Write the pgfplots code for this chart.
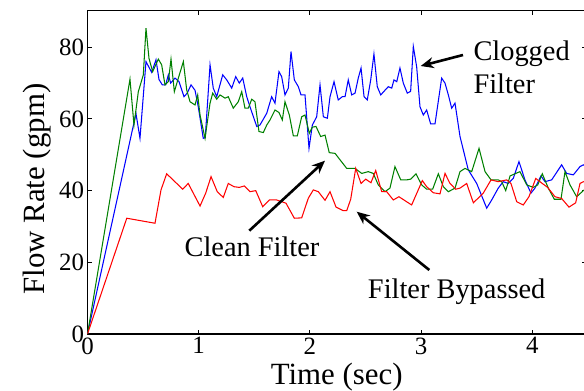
\documentclass[border=0pt]{standalone}
\usepackage{pgfplots}
\pgfplotsset{compat=1.18}
\usepackage{fontspec}
\setmainfont{Liberation Serif}
\usetikzlibrary{arrows.meta}
\definecolor{mblue}{RGB}{0,0,255}
\definecolor{mgreen}{RGB}{0,128,0}
\definecolor{mred}{RGB}{255,0,0}
\begin{document}
\begin{tikzpicture}
\begin{axis}[
  at={(0,0)}, anchor=south west,
  scale only axis, width=498.5bp, height=323.3bp,
  xmin=0, xmax=4.483, ymin=0, ymax=90.2,
  xtick={0,1,2,3,4}, ytick={0,20,40,60,80},
  tick align=inside, major tick length=4.5bp,
  axis line style={line width=1.3bp}, tick style={line width=0.9bp, black},
  /pgf/number format/assume math mode=true,
  ticklabel style={font=\fontsize{25}{25}\selectfont},
  xlabel={Time (sec)}, ylabel={Flow Rate (gpm)},
  label style={font=\fontsize{31}{31}\selectfont},
  xlabel style={at={(axis description cs:0.5,-0.1577)}, anchor=base},
  ylabel style={at={(axis description cs:-0.0862,0.448)}, anchor=base, rotate=0},
  clip=true,
]
\addplot[mblue, line width=1.05bp] coordinates {
(0,0) (0.436,61.5) (0.472,54.6) (0.526,76) (0.577,73) (0.616,76.5) (0.643,71) (0.673,69.5) (0.703,69.5) (0.727,72.3) (0.748,70) (0.787,71.4) (0.823,70.4) (0.868,66.2) (0.897,67.2) (0.931,69.5) (0.967,68) (0.996,63.4) (1.041,54.6) (1.059,54.8) (1.102,75.1) (1.131,68.6) (1.162,66.2) (1.216,72.3) (1.252,70.9) (1.297,68.6) (1.333,71.8) (1.365,70) (1.396,71.4) (1.432,66.2) (1.461,63.4) (1.522,57.9) (1.551,58.3) (1.612,61.6) (1.656,66.2) (1.686,64.4) (1.722,73.2) (1.746,71.8) (1.776,66.7) (1.806,68.6) (1.830,78.8) (1.860,70.9) (1.896,69) (1.920,66.7) (1.956,66.7) (1.992,51.8) (2.022,58.3) (2.061,60.6) (2.091,69.5) (2.121,60.6) (2.157,60.2) (2.181,66.2) (2.217,70.4) (2.255,65.3) (2.291,66.2) (2.316,66.2) (2.345,70.9) (2.376,66.7) (2.406,67.2) (2.435,71.4) (2.460,74.2) (2.487,66.2) (2.516,65.3) (2.547,70.9) (2.576,78.1) (2.606,69) (2.637,66.7) (2.675,68) (2.705,69) (2.736,68.6) (2.756,70.9) (2.781,70.4) (2.810,74.2) (2.840,70) (2.876,67.2) (2.906,67.7) (2.930,80.2) (2.960,74.6) (2.990,63.4) (3.020,61.1) (3.050,62.5) (3.086,58.6) (3.125,58.6) (3.185,71.4) (3.215,70) (3.245,66.7) (3.275,63) (3.305,64.4) (3.350,55.1) (3.424,45.8) (3.500,42) (3.590,35.1) (3.635,37.4) (3.694,40.7) (3.739,42.5) (3.784,42) (3.829,43.4) (3.880,48.1) (3.934,43) (3.988,39.3) (4.024,40.7) (4.078,44.1) (4.114,42.5) (4.174,43) (4.264,47.2) (4.309,44.8) (4.369,44.4) (4.429,46.7) (4.459,47.2) (4.50,46.5)
};
\addplot[mgreen, line width=1.05bp] coordinates {
(0,0) (0.382,71.1) (0.418,58.3) (0.457,67.6) (0.502,72.3) (0.526,85.3) (0.553,76.9) (0.586,73.2) (0.637,76.7) (0.667,75.1) (0.697,69.5) (0.727,70.4) (0.751,76.7) (0.781,67.6) (0.817,71.4) (0.862,76) (0.892,68.1) (0.922,64.8) (0.967,63.9) (0.991,66.7) (1.012,61.1) (1.057,54.6) (1.102,64.4) (1.126,67.2) (1.162,65.5) (1.192,66.7) (1.237,65.8) (1.266,66.2) (1.311,63) (1.356,64.8) (1.387,67.6) (1.416,63) (1.446,63) (1.477,65.5) (1.506,64.8) (1.542,56.5) (1.581,56.2) (1.612,58.3) (1.641,59.7) (1.686,62.5) (1.722,61.8) (1.752,59.7) (1.776,64.8) (1.815,61.1) (1.851,55.3) (1.887,55.3) (1.926,60.6) (1.956,61.1) (1.995,56) (2.022,57.7) (2.055,57.9) (2.097,55.1) (2.136,55.5) (2.174,50.6) (2.226,50.4) (2.271,48.6) (2.331,46.2) (2.406,46.2) (2.466,44.8) (2.525,45.3) (2.570,44.8) (2.615,41.6) (2.675,39.7) (2.720,40.7) (2.765,46.7) (2.817,43) (2.871,43) (2.906,43.2) (2.954,44.7) (3.005,41.6) (3.050,40.4) (3.104,40.4) (3.155,44.7) (3.200,41.1) (3.245,39.7) (3.305,40.7) (3.350,45.3) (3.395,46.2) (3.455,45.3) (3.521,51.8) (3.575,45.3) (3.629,43) (3.694,43) (3.725,42.5) (3.761,40) (3.800,44.1) (3.889,45.3) (3.950,41.6) (4.009,40.9) (4.049,41.6) (4.090,44.7) (4.144,40.7) (4.198,37.6) (4.258,37.6) (4.294,45.3) (4.339,41.6) (4.399,38.3) (4.459,40) (4.50,41)
};
\addplot[mred, line width=1.05bp] coordinates {
(0,0) (0.353,32.3) (0.607,30.9) (0.661,40.2) (0.712,44.7) (0.856,40.4) (0.906,42) (1.012,35.7) (1.063,39.3) (1.111,43.9) (1.167,39.7) (1.221,38.1) (1.266,42) (1.317,41.1) (1.365,40.9) (1.410,41.3) (1.461,39.7) (1.513,40) (1.576,35.5) (1.635,37.4) (1.701,37.4) (1.785,36.5) (1.860,32.3) (1.926,32.4) (1.986,37.9) (2.031,40.2) (2.076,39.7) (2.136,37.3) (2.181,39.7) (2.235,35.4) (2.255,35.1) (2.300,34.4) (2.331,34.4) (2.367,37.6) (2.412,46.2) (2.460,42) (2.502,43.2) (2.549,42.2) (2.592,45.6) (2.646,39.7) (2.691,39.7) (2.750,37.4) (2.801,38.3) (2.855,37.2) (2.915,36) (3.011,42.8) (3.050,41.1) (3.110,39.4) (3.170,39.1) (3.215,44.8) (3.260,42) (3.311,40.4) (3.350,40.7) (3.410,42) (3.470,36.6) (3.559,39.3) (3.629,43) (3.694,42.5) (3.770,43) (3.808,42) (3.860,36.9) (3.919,36) (3.970,38.3) (4.031,43.4) (4.090,42) (4.138,40.9) (4.204,38.3) (4.264,37.8) (4.330,35.4) (4.390,36.6) (4.429,42) (4.459,42.5) (4.50,42)
};
\end{axis}
\begin{scope}[x=1bp,y=1bp,font=\fontsize{28.5}{28.5}\selectfont]
% pixel -> picture coords: X = px-87.5, Y = 334-py
\node[anchor=base west, inner sep=0] at (385.8,274) {Clogged};
\node[anchor=base west, inner sep=0] at (385.8,240.7) {Filter};
\node[anchor=base, inner sep=0] at (164.5,77.3) {Clean Filter};
\node[anchor=base, inner sep=0] at (369.2,35.7) {Filter Bypassed};
\draw[line width=2.6bp, -{Stealth[length=13bp,width=11bp]}] (375.5,279) -- (333.2,268);
\draw[line width=2.6bp, -{Stealth[length=13bp,width=11bp]}] (161.8,103.3) -- (237.5,173.3);
\draw[line width=2.6bp, -{Stealth[length=13bp,width=11bp]}] (341.8,64) -- (269.2,122.3);
\end{scope}
\pgfresetboundingbox
\path[use as bounding box] (-87.5bp,-57bp) rectangle (496.5bp,334bp);
\end{tikzpicture}
\end{document}
